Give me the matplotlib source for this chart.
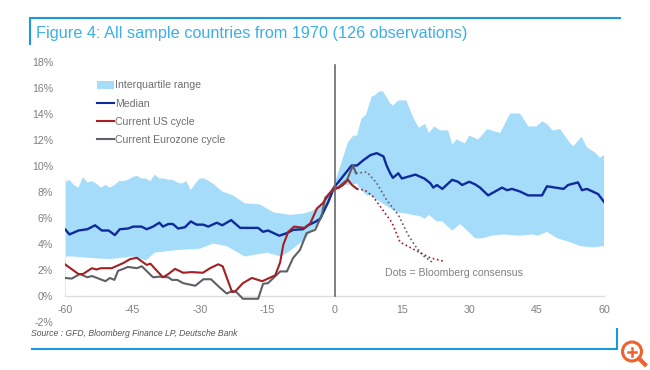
import matplotlib
matplotlib.use("Agg")
import matplotlib.pyplot as plt
from matplotlib.lines import Line2D
from matplotlib.patches import Circle, Patch

# values (months from peak, % rate)
upper_x = [-60, -59, -58, -57, -56, -55, -54, -53, -52, -51, -50, -49, -48, -47, -46, -45, -44, -43, -42, -41, -40,
           -39, -38, -37, -36, -35, -34, -33, -32, -31, -30, -29, -27, -25, -22.6, -20, -16.6, -13.6, -9.9, -7, -5,
           -3, -2, -1, 0, 3, 4.2, 5, 6, 7, 8.3, 9, 10, 10.8, 12.4, 13, 14.2, 16, 17.5, 18.8, 20.2, 21, 22.2, 23.5,
           25.3, 26.2, 27.2, 29, 30, 32, 34, 36.9, 39.1, 41.3, 43.2, 45, 46.2, 47.3, 48.5, 50.2, 52.5, 53.2, 55,
           56.2, 58, 59.1, 60]
upper = [8.7, 8.9, 8.5, 8.3, 9.1, 8.7, 8.8, 8.6, 8.3, 8.5, 8.3, 8.5, 8.8, 8.8, 8.9, 9.1, 9.2, 9.0, 9.0, 8.8, 9.3,
         9.0, 9.0, 8.9, 8.9, 8.7, 8.6, 8.8, 8.1, 8.6, 9.0, 9.0, 8.6, 8.0, 7.7, 7.1, 7.0, 6.4, 6.2, 6.3, 6.5,
         7.0, 7.5, 8.0, 8.6, 11.8, 12.3, 12.3, 13.6, 13.9, 15.3, 15.4, 15.7, 15.7, 14.8, 14.6, 15.0, 15.0, 13.7,
         12.9, 13.2, 12.5, 13.0, 12.7, 12.7, 11.6, 12.0, 11.7, 12.3, 12.0, 12.8, 12.5, 14.0, 14.0, 13.0, 13.0,
         13.4, 13.2, 12.7, 12.8, 11.7, 11.5, 12.2, 11.4, 11.0, 10.6, 10.8]

lower_x = [-60, -58, -55, -50, -45, -42, -40, -35, -30, -27, -24, -20, -15, -12, -10, -7, -5, -3, -1, 0, 3, 5, 6,
           7.2, 8, 11, 14, 16, 19, 20.1, 21, 22.8, 24, 26.2, 28, 29.8, 31.3, 33, 35, 37.5, 41.3, 44, 45.3, 47.3,
           49.6, 52.5, 54.7, 57.6, 60]
lower = [3.0, 3.0, 2.9, 2.8, 3.0, 2.7, 3.3, 3.5, 3.6, 4.0, 3.8, 3.0, 3.3, 3.0, 3.4, 4.2, 5.0, 5.8, 7.2, 8.6, 8.5,
         8.6, 8.1, 7.7, 7.7, 7.0, 6.4, 6.3, 6.1, 5.9, 6.2, 5.7, 5.7, 5.0, 5.5, 4.9, 4.4, 4.4, 4.6, 4.7, 4.6, 4.7,
         4.6, 4.9, 4.4, 4.1, 3.8, 3.7, 3.8]

median_x = [-60, -59, -57, -55, -53.3, -51.8, -50.3, -48.9, -47.8, -46, -44.8, -43, -41.8, -40.4, -39, -38.2, -37,
            -36, -34.8, -33.3, -32, -30.7, -29.2, -28.1, -26.2, -25, -23, -21, -17, -15.9, -14.8, -12.3, -10.6,
            -9.2, -7, -5.9, -4.1, -3.2, -1.4, 0, 3.8, 5, 6.4, 8, 9.4, 10.9, 11.6, 12.4, 13, 14.2, 15, 18, 20, 21.3,
            22, 22.8, 24, 26.2, 27.5, 28.4, 30, 31.3, 32.4, 34.2, 37.3, 38.4, 39.5, 41.3, 43.1, 46.2, 47.3, 51, 52,
            54.2, 55.1, 56.2, 58.7, 60]
median = [5.1, 4.7, 5.0, 5.1, 5.4, 5.0, 5.0, 4.65, 5.1, 5.15, 5.3, 5.3, 5.1, 5.3, 5.6, 5.3, 5.5, 5.5, 5.15, 5.25,
          5.7, 5.45, 5.45, 5.3, 5.6, 5.4, 5.8, 5.2, 5.2, 4.9, 5.0, 4.6, 4.8, 5.05, 5.1, 5.4, 5.7, 5.9, 7.2, 8.35,
          10.0, 10.0, 10.4, 10.8, 10.95, 10.7, 10.0, 9.4, 9.05, 9.4, 9.0, 9.3, 9.0, 8.65, 8.3, 8.5, 8.2, 8.9, 8.75,
          8.5, 8.75, 8.55, 8.3, 7.7, 8.3, 8.1, 8.2, 8.0, 7.7, 7.7, 8.4, 8.2, 8.5, 8.7, 8.1, 8.2, 7.8, 7.2]

us_x = [-60, -57, -56, -54, -53, -52, -49.6, -47, -45.5, -44, -41.8, -41, -38.2, -37, -35.5, -33.7, -31.8, -29.3,
        -27.7, -25.9, -24.9, -22.8, -22, -20.4, -18.4, -16.1, -13.2, -12.1, -11.4, -10.3, -9, -6.6, -5.4, -3.9,
        -2.6, -1, 0, 0.8, 1.9, 3, 3.9, 5]
us = [2.4, 1.65, 1.65, 2.1, 2.0, 2.1, 2.1, 2.5, 2.8, 2.9, 2.35, 2.45, 1.4, 1.65, 2.05, 1.75, 1.8, 1.75, 2.1, 2.4,
      2.25, 0.25, 0.35, 0.95, 1.35, 1.1, 1.55, 2.55, 3.9, 4.9, 5.3, 5.2, 5.55, 6.7, 7.1, 7.9, 8.35, 8.25, 8.5, 8.9,
      8.5, 8.2]
us_dots_x = [5, 6.8, 8.6, 10.5, 12.8, 14.6, 16.8, 19, 21.3, 24.1]
us_dots = [8.2, 8.1, 7.6, 6.7, 5.6, 4.1, 3.7, 3.3, 2.9, 2.65]

ez_x = [-60, -58.5, -56.7, -55, -54, -51, -50, -49, -48.2, -47, -46, -44, -42.9, -40.4, -39, -37, -36.2, -35, -33.7,
        -31, -29.2, -27.5, -25.5, -24, -22.8, -21.8, -20.4, -17, -15.9, -14.8, -12.1, -10.6, -9.2, -7.7, -6.2, -4.3,
        -2.8, -2.1, -1, 0, 2.8, 4.1, 4.8]
ez = [1.35, 1.3, 1.65, 1.4, 1.5, 1.1, 1.35, 1.2, 1.9, 2.05, 2.2, 2.1, 2.25, 1.4, 1.45, 1.4, 1.2, 1.2, 0.95, 0.75,
      1.25, 1.25, 0.6, 0.15, 0.35, 0.25, -0.25, -0.25, 0.9, 0.95, 1.85, 1.85, 2.9, 3.5, 4.8, 5.05, 6.2, 7.5, 7.9,
      8.1, 8.9, 10.0, 9.4]
ez_dots_x = [4.8, 6, 7.2, 9.4, 11.6, 14.2, 16.4, 18.3, 19.8, 22]
ez_dots = [9.4, 9.45, 9.5, 8.65, 7.35, 6.2, 4.65, 3.65, 3.05, 2.5]

x_ticks = [-60, -45, -30, -15, 0, 15, 30, 45, 60]
y_ticks = [-2, 0, 2, 4, 6, 8, 10, 12, 14, 16, 18]

plt.rcParams["font.family"] = ["Liberation Sans", "DejaVu Sans"]
plt.rcParams["axes.unicode_minus"] = False

W, H = 650, 370
fig = plt.figure(figsize=(W / 100, H / 100), dpi=100)
# axes box in pixels: x -60..60 is 65..604, y 18..-2 is 61.5..321.5
ax = fig.add_axes([65 / W, 1 - 321.5 / H, (604 - 65) / W, 260 / H])
ax.set_xlim(-60, 60)
ax.set_ylim(-2, 18)
ax.patch.set_visible(False)

band_col = "#a5dcf9"
navy = "#0f2a9c"
red = "#a31f24"
grey = "#5f5f66"

ax.fill(upper_x + lower_x[::-1], upper + lower[::-1], color=band_col, lw=0, zorder=1)
ax.plot(median_x, median, color=navy, lw=1.7, zorder=3)
ax.plot(ez_x, ez, color=grey, lw=1.5, zorder=4)
ax.plot(us_x, us, color=red, lw=1.5, zorder=5)
ax.plot(ez_dots_x, ez_dots, color=grey, lw=1.2, ls=(0, (1, 1.6)), zorder=4)
ax.plot(us_dots_x, us_dots, color=red, lw=1.2, ls=(0, (1, 1.6)), zorder=5)
ax.plot([0, 0], [-0.05, 17.7], color="#6a6a6a", lw=1.2, zorder=6)

for s in ["top", "right"]:
    ax.spines[s].set_visible(False)
ax.spines["bottom"].set_position(("data", 0))
ax.spines["bottom"].set_color("#dedede")
ax.spines["bottom"].set_linewidth(1.0)
ax.spines["left"].set_bounds(0, 9)
ax.spines["left"].set_color("#dcecf6")
ax.spines["left"].set_linewidth(0.8)

ax.set_xticks(x_ticks)
ax.set_yticks(y_ticks)
ax.set_yticklabels([str(v) + "%" for v in y_ticks])
ax.tick_params(axis="x", length=0, pad=6.5, labelsize=7.7, labelcolor="#808080")
ax.tick_params(axis="y", length=0, pad=8.5, labelsize=7.7, labelcolor="#808080")

handles = [Patch(color=band_col, lw=0),
           Line2D([], [], color=navy, lw=1.5),
           Line2D([], [], color=red, lw=1.5),
           Line2D([], [], color=grey, lw=1.5)]
labels = ["Interquartile range", "Median", "Current US cycle", "Current Eurozone cycle"]
ax.legend(handles, labels, loc="upper left", bbox_to_anchor=(97 / W, 1 - 80.5 / H), bbox_transform=fig.transFigure,
          frameon=False, fontsize=7.6, labelcolor="#6e6e6e", handlelength=1.6, handleheight=0.7, handletextpad=0.15,
          labelspacing=0.76, borderpad=0, borderaxespad=0)

ax.text(11.2, 1.7, "Dots = Bloomberg consensus", fontsize=7.6, color="#808080", va="center")

# title, source, blue frame are placed in figure pixels
fig.text(36 / W, 1 - 33.5 / H, "Figure 4: All sample countries from 1970 (126 observations)", fontsize=11.7,
         color="#3cafe6", va="center")
fig.text(31 / W, 1 - 333 / H, "Source : GFD, Bloomberg Finance LP, Deutsche Bank", fontsize=6.25, style="italic",
         color="#555555", va="center")


def frame_line(xs, ys):
    fig.add_artist(Line2D([v / W for v in xs], [1 - v / H for v in ys], color="#1a9ad9", lw=1.5,
                          solid_capstyle="butt", solid_joinstyle="miter"))


frame_line([29.5, 29.5, 621], [45, 18, 18])
frame_line([31, 616.5, 616.5], [348.5, 348.5, 328])

# little zoom icon in the corner
icon = "#f0622d"
fig.add_artist(Circle((632, H - 351.5), 9.5, transform=None, fill=False, edgecolor=icon, lw=2.2))
fig.add_artist(Line2D([639 / W, 645 / W], [1 - 358.5 / H, 1 - 364.5 / H], color=icon, lw=3))
fig.add_artist(Line2D([628 / W, 636 / W], [1 - 351.5 / H, 1 - 351.5 / H], color=icon, lw=1.8))
fig.add_artist(Line2D([632 / W, 632 / W], [1 - 347.5 / H, 1 - 355.5 / H], color=icon, lw=1.8))

fig.savefig("out.png", dpi=100)
